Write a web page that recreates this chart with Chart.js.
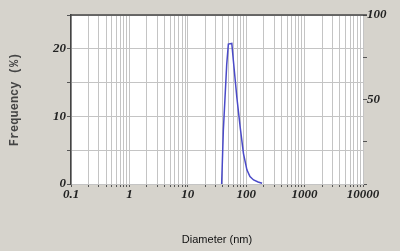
<!DOCTYPE html>
<html><head><meta charset="utf-8">
<script src="https://cdn.jsdelivr.net/npm/chart.js@4"></script>
<style>html,body{margin:0;padding:0;background:#d6d3cc;}#w{width:400px;height:251px;}</style>
</head><body><div id="w"><canvas id="c" width="400" height="251"></canvas></div>
<script>
const diameters = [38, 40.6, 43.4, 46.4, 49.5, 56.7, 60.4, 69.2, 78.9, 89.8, 102.8, 116, 133.7, 160, 187];
const frequency = [0, 7.9, 12.8, 17.7, 20.7, 20.8, 18.2, 12.8, 8.4, 4.5, 2.1, 1.1, 0.6, 0.3, 0.1];
const xTickLabels = [0.1, 1, 10, 100, 1000, 10000];
const yLeftLabels = [0, 10, 20];
const yRightLabels = [50, 100];

const pts = diameters.map((d, i) => ({x: d, y: frequency[i]}));
const frame = {
  id: 'frame',
  beforeDraw(ch) {
    const a = ch.chartArea, c = ch.ctx;
    c.save(); c.fillStyle = '#ffffff';
    c.fillRect(a.left, a.top, a.right - a.left, a.bottom - a.top);
    c.restore();
  },
  afterDraw(ch) {
    const a = ch.chartArea, c = ch.ctx;
    c.save(); c.strokeStyle = '#444'; c.lineWidth = 1.5;
    c.beginPath(); c.moveTo(a.left, a.top); c.lineTo(a.right + 4, a.top); c.stroke();
    c.restore();
  }
};
const lab = {family: 'Liberation Serif', size: 13, weight: 'bold', style: 'italic'};
new Chart(document.getElementById('c'), {
  type: 'line',
  data: {datasets: [{data: pts, borderColor: '#4a4ac8', borderWidth: 1.5, pointRadius: 0, tension: 0, fill: false}]},
  plugins: [frame],
  options: {
    responsive: false, animation: false,
    layout: {padding: {left: 0, right: 0, top: 15, bottom: 0}},
    plugins: {legend: {display: false}, tooltip: {enabled: false}},
    scales: {
      x: {
        type: 'logarithmic', min: 0.1, max: 10000,
        afterFit(s) { s.height = 67; },
        afterBuildTicks(s) {
          const t = [];
          for (let e = -1; e < 4; e++) for (let m = 1; m < 10; m++) t.push({value: m * Math.pow(10, e)});
          t.push({value: 10000});
          s.ticks = t;
        },
        ticks: {
          autoSkip: false, maxRotation: 0, color: '#222', font: lab, padding: 0,
          callback(v) { const r = xTickLabels.find(l => Math.abs(l - v) / l < 1e-6); return r === undefined ? '' : String(r); }
        },
        grid: {color: '#c4c4c4', lineWidth: 1, tickLength: 3, tickColor: '#555'},
        border: {color: '#c4c4c4'},
        title: {display: true, text: 'Diameter (nm)', color: '#111', font: {family: 'Liberation Sans', size: 11}, padding: {top: 0, bottom: 4}}
      },
      y: {
        position: 'left', min: 0, max: 25,
        afterFit(s) { s.width = 71; },
        ticks: {stepSize: 5, color: '#222', font: lab, padding: 1,
          callback(v) { return yLeftLabels.includes(v) ? String(v) : ''; }},
        grid: {color: '#c4c4c4', tickLength: 4, tickColor: '#555'},
        border: {color: '#444', width: 1.5},
        title: {display: true, text: 'Frequency (%)', color: '#444', font: {family: 'Liberation Mono', size: 12, weight: 'bold'}, padding: {top: 8, bottom: 0}}
      },
      y2: {
        position: 'right', min: 0, max: 100,
        afterFit(s) { s.width = 37; },
        ticks: {stepSize: 25, color: '#222', font: lab, padding: 0,
          callback(v) { return yRightLabels.includes(v) ? String(v) : ''; }},
        grid: {drawOnChartArea: false, tickLength: 4, tickColor: '#555'},
        border: {display: false}
      }
    }
  }
});
</script></body></html>
